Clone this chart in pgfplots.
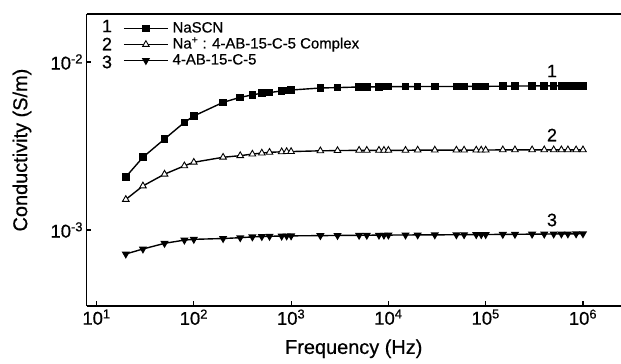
\documentclass[border=0pt]{standalone}
\usepackage{pgfplots}
\pgfplotsset{compat=1.18}
\usepackage{pgfplotstable}
\usepackage{fontspec}
\setmainfont{Liberation Sans}[FakeBold=0.6]
\newfontfamily\lab{Liberation Sans}[FakeBold=0.6]

\pgfplotstableread{
f        s1        s2        s3
20       2.07e-3   1.52e-3   7.20e-4
30       2.71e-3   1.83e-3   7.71e-4
50       3.48e-3   2.15e-3   8.33e-4
80       4.37e-3   2.41e-3   8.71e-4
100      4.77e-3   2.53e-3   8.80e-4
200      5.75e-3   2.71e-3   8.90e-4
300      6.16e-3   2.77e-3   9.00e-4
400      6.37e-3   2.83e-3   9.10e-4
500      6.52e-3   2.87e-3   9.15e-4
600      6.58e-3   2.90e-3   9.18e-4
800      6.72e-3   2.92e-3   9.20e-4
900      6.76e-3   2.93e-3   9.22e-4
1000     6.81e-3   2.93e-3   9.23e-4
2000     7.00e-3   2.96e-3   9.26e-4
3000     7.04e-3   2.97e-3   9.28e-4
5000     7.10e-3   2.98e-3   9.30e-4
6000     7.11e-3   2.98e-3   9.31e-4
8000     7.12e-3   2.98e-3   9.32e-4
9000     7.13e-3   2.98e-3   9.32e-4
10000    7.13e-3   2.98e-3   9.33e-4
15000    7.14e-3   2.98e-3   9.34e-4
20000    7.14e-3   2.99e-3   9.35e-4
30000    7.15e-3   2.99e-3   9.36e-4
50000    7.15e-3   2.99e-3   9.37e-4
60000    7.15e-3   2.99e-3   9.38e-4
80000    7.16e-3   2.99e-3   9.39e-4
90000    7.16e-3   2.99e-3   9.39e-4
100000   7.16e-3   2.99e-3   9.40e-4
150000   7.18e-3   3.00e-3   9.42e-4
200000   7.19e-3   3.00e-3   9.43e-4
300000   7.20e-3   3.00e-3   9.45e-4
400000   7.21e-3   3.00e-3   9.46e-4
500000   7.21e-3   3.00e-3   9.47e-4
600000   7.22e-3   3.00e-3   9.48e-4
700000   7.22e-3   3.00e-3   9.48e-4
850000   7.22e-3   3.00e-3   9.49e-4
1000000  7.22e-3   3.00e-3   9.50e-4
}\datatable

\begin{document}
\begin{tikzpicture}
\useasboundingbox (0,0) rectangle (621bp,364bp);
\begin{axis}[
  at={(86.5bp,58bp)}, anchor=south west,
  width=534.5bp, height=292bp, scale only axis,
  xmode=log, ymode=log,
  xmin=7.89, xmax=2.46e6,
  ymin=3.53e-4, ymax=1.93e-2,
  axis x line*=box, axis y line*=left,
  y axis line style={-},
  axis line style={line width=1.5pt},
  xtick pos=left, ytick pos=left,
  tick align=inside,
  major tick length=5bp,
  tick style={line width=1.1pt, black},
  xminorticks=false, yminorticks=false,
  xtick={10,100,1000,10000,100000,1000000},
  xticklabels={10\textsuperscript{1},10\textsuperscript{2},10\textsuperscript{3},10\textsuperscript{4},10\textsuperscript{5},10\textsuperscript{6}},
  ytick={0.001,0.01},
  yticklabels={10\textsuperscript{-3},10\textsuperscript{-2}},
  ticklabel style={font=\fontsize{18.5}{20}\selectfont},
  xlabel={Frequency (Hz)},
  ylabel={Conductivity (S/m)},
  label style={font=\fontsize{20}{22}\selectfont},
  xlabel style={at={(axis description cs:0.5,-0.164)}, anchor=base},
  ylabel style={at={(axis description cs:-0.1207,0.534)}, anchor=center},
  legend image code/.code={\draw[mark repeat=2,mark phase=2,#1] plot coordinates {(0bp,0bp)(22bp,0bp)(44bp,0bp)};},
  legend style={at={(axis description cs:0.0683,0.975)}, anchor=north west,
    draw=none, fill=none, inner sep=0pt, row sep=2bp, column sep=4bp,
    font=\fontsize{15}{16}\selectfont,
    nodes={inner sep=0pt, text height=11bp, text depth=3bp}},
  legend cell align=left,
]
\addplot[black, line width=1.4pt, mark=square*, mark size=3.1bp, mark options={solid}] table[x=f, y=s1] {\datatable};
\addlegendentry{NaSCN}
\addplot[black, line width=1.4pt, mark=triangle*, mark size=3.8bp, mark options={solid, fill=white, line width=0.9pt}] table[x=f, y=s2] {\datatable};
\addlegendentry{Na\textsuperscript{+} : 4-AB-15-C-5 Complex}
\addplot[black, line width=1.4pt, mark=triangle*, mark size=3.4bp, mark options={solid, rotate=180}] table[x=f, y=s3] {\datatable};
\addlegendentry{4-AB-15-C-5}
\end{axis}
\begin{scope}[every node/.style={font=\fontsize{18}{19}\selectfont, inner sep=0pt}]
\node at (107bp,{(364-26)*1bp}) {1};
\node at (107bp,{(364-44)*1bp}) {2};
\node at (107bp,{(364-62)*1bp}) {3};
\node at (552bp,{(364-71)*1bp}) {1};
\node at (552bp,{(364-135)*1bp}) {2};
\node at (552bp,{(364-220)*1bp}) {3};
\end{scope}
\end{tikzpicture}
\end{document}
